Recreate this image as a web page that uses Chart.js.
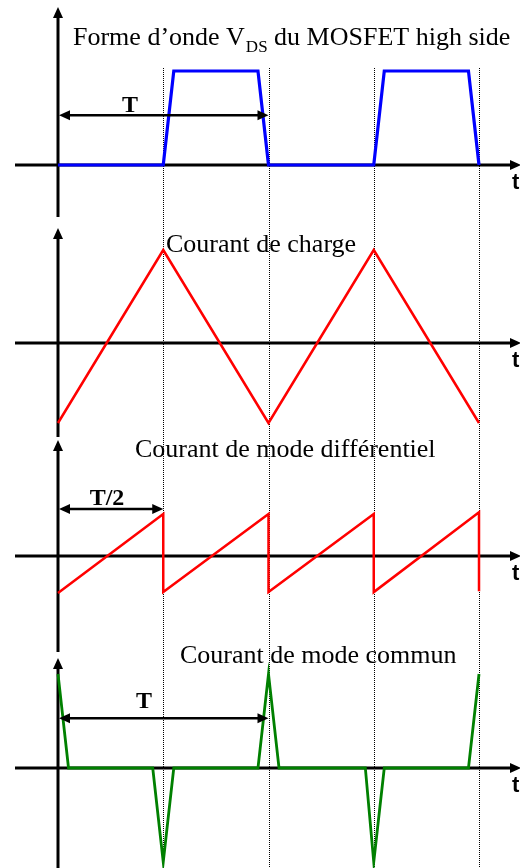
<!DOCTYPE html>
<html>
<head>
<meta charset="utf-8">
<script src="https://cdn.jsdelivr.net/npm/chart.js@4"></script>
<style>
  html, body { margin: 0; padding: 0; background: #fff; overflow: hidden; }
  canvas { display: block; }
</style>
</head>
<body>
<canvas id="wave" width="520" height="868"></canvas>
<script>
// Time is counted in half-periods (T/2); one full period T spans two units.
const vdsTime = [0, 1, 1.1, 1.9, 2, 3, 3.1, 3.9, 4];
const vdsLevel = [0, 0, 1, 1, 0, 0, 1, 1, 0];

const chargeTime = [0, 1, 2, 3, 4];
const chargeCurrent = [-0.86, 1, -0.86, 1, -0.86];

const diffTime = [0, 1, 1, 2, 2, 3, 3, 4, 4];
const diffCurrent = [-0.44, 0.5, -0.43, 0.5, -0.43, 0.5, -0.43, 0.52, -0.42];

const cmTime = [0, 0.1, 0.9, 1, 1.1, 1.9, 2, 2.1, 2.92, 3, 3.1, 3.9, 4];
const cmCurrent = [1, 0, 0, -1, 0, 0, 1, 0, 0, -1, 0, 0, 1];

const guideTimes = [1, 2, 3, 4];

const panelTitles = [
  'Forme d\u2019onde V',
  'Courant de charge',
  'Courant de mode diff\u00e9rentiel',
  'Courant de mode commun'
];

// Layout of the four stacked panels (canvas pixels).
const H = 868;
const panels = [
  { scale: 'y1', axisPx: 165, unitPx: 94, axisTop: 7,   axisBottom: 217, title: [73, 45]  },
  { scale: 'y2', axisPx: 343, unitPx: 93, axisTop: 228, axisBottom: 437, title: [166, 252] },
  { scale: 'y3', axisPx: 556, unitPx: 84, axisTop: 440, axisBottom: 652, title: [135, 457] },
  { scale: 'y4', axisPx: 768, unitPx: 94, axisTop: 658, axisBottom: 868, title: [180, 663] }
];

function yScaleFor(p) {
  return {
    type: 'linear', display: false,
    min: -(H - p.axisPx) / p.unitPx,
    max: p.axisPx / p.unitPx
  };
}

function pts(xs, ys) { return xs.map((x, i) => ({ x: x, y: ys[i] })); }

const SERIF = '"Liberation Serif", "Times New Roman", serif';
const SANS = '"Liberation Sans", Arial, sans-serif';

function arrowHead(ctx, tipX, tipY, dx, dy, len, half) {
  // dx,dy: unit direction the arrow points to
  const bx = tipX - dx * len, by = tipY - dy * len;
  ctx.beginPath();
  ctx.moveTo(tipX, tipY);
  ctx.lineTo(bx - dy * half, by + dx * half);
  ctx.lineTo(bx + dy * half, by - dx * half);
  ctx.closePath();
  ctx.fill();
}

function dimArrow(ctx, x1, x2, y) {
  ctx.lineWidth = 2.6;
  ctx.beginPath();
  ctx.moveTo(x1 + 8, y);
  ctx.lineTo(x2 - 8, y);
  ctx.stroke();
  arrowHead(ctx, x1 + 1, y, -1, 0, 11, 5);
  arrowHead(ctx, x2, y, 1, 0, 11, 5);
}

const diagramPlugin = {
  id: 'diagram',
  beforeDatasetsDraw(chart) {
    const ctx = chart.ctx;
    const xs = chart.scales.x;
    ctx.save();
    // dotted guides at each half-period
    ctx.strokeStyle = '#000';
    ctx.lineWidth = 1;
    ctx.setLineDash([1, 1]);
    guideTimes.forEach(t => {
      const px = Math.round(xs.getPixelForValue(t)) + 0.5;
      ctx.beginPath();
      ctx.moveTo(px, 68);
      ctx.lineTo(px, H);
      ctx.stroke();
    });
    ctx.setLineDash([]);
    // axes with arrowheads
    ctx.fillStyle = '#000';
    const x0 = xs.getPixelForValue(0);
    panels.forEach(p => {
      const y0 = chart.scales[p.scale].getPixelForValue(0);
      ctx.lineWidth = 3;
      ctx.beginPath();
      ctx.moveTo(15, y0);
      ctx.lineTo(511, y0);
      ctx.stroke();
      arrowHead(ctx, 521, y0, 1, 0, 11, 5);
      ctx.beginPath();
      ctx.moveTo(x0, p.axisTop + 9);
      ctx.lineTo(x0, p.axisBottom);
      ctx.stroke();
      arrowHead(ctx, x0, p.axisTop, 0, -1, 11, 5);
    });
    ctx.restore();
  },
  afterDatasetsDraw(chart) {
    const ctx = chart.ctx;
    const xs = chart.scales.x;
    ctx.save();
    ctx.fillStyle = '#000';
    ctx.strokeStyle = '#000';
    ctx.textBaseline = 'alphabetic';
    ctx.textAlign = 'left';

    // panel titles
    ctx.font = '26px ' + SERIF;
    let [tx, ty] = panels[0].title;
    ctx.fillText(panelTitles[0], tx, ty);
    tx += ctx.measureText(panelTitles[0]).width;
    ctx.font = '17px ' + SERIF;
    ctx.fillText('DS', tx + 1, ty + 7);
    tx += ctx.measureText('DS').width + 1;
    ctx.font = '26px ' + SERIF;
    ctx.fillText(' du MOSFET high side', tx, ty);
    for (let i = 1; i < panels.length; i++) {
      ctx.fillText(panelTitles[i], panels[i].title[0], panels[i].title[1]);
    }

    // time-axis labels
    ctx.font = 'bold 22px ' + SANS;
    panels.forEach(p => {
      const y0 = chart.scales[p.scale].getPixelForValue(0);
      ctx.fillText('t', 512, y0 + 24);
    });

    // period markers
    const x0 = xs.getPixelForValue(0);
    const yT1 = chart.scales.y1.getPixelForValue(0.53);
    dimArrow(ctx, x0, xs.getPixelForValue(2), yT1);
    const yT2 = chart.scales.y3.getPixelForValue(0.56);
    dimArrow(ctx, x0, xs.getPixelForValue(1), yT2);
    const yT3 = chart.scales.y4.getPixelForValue(0.53);
    dimArrow(ctx, x0, xs.getPixelForValue(2), yT3);

    ctx.font = 'bold 24px ' + SERIF;
    ctx.textAlign = 'center';
    ctx.fillText('T', 130, yT1 - 3);
    ctx.fillText('T/2', 107, yT2 - 4);
    ctx.fillText('T', 144, yT3 - 10);
    ctx.restore();
  }
};

const lineStyle = { fill: false, tension: 0, pointRadius: 0, borderJoinStyle: 'miter', clip: false };

new Chart(document.getElementById('wave'), {
  type: 'line',
  data: {
    datasets: [
      Object.assign({ label: 'VDS', data: pts(vdsTime, vdsLevel), borderColor: '#0000ff', borderWidth: 3.2, yAxisID: 'y1' }, lineStyle),
      Object.assign({ label: 'Courant de charge', data: pts(chargeTime, chargeCurrent), borderColor: '#ff0000', borderWidth: 2.5, yAxisID: 'y2' }, lineStyle),
      Object.assign({ label: 'Courant de mode diff\u00e9rentiel', data: pts(diffTime, diffCurrent), borderColor: '#ff0000', borderWidth: 2.5, yAxisID: 'y3' }, lineStyle),
      Object.assign({ label: 'Courant de mode commun', data: pts(cmTime, cmCurrent), borderColor: '#008000', borderWidth: 2.8, yAxisID: 'y4' }, lineStyle)
    ]
  },
  options: {
    responsive: false,
    animation: false,
    devicePixelRatio: 1,
    layout: { padding: { left: 58, right: 41, top: 0, bottom: 0 } },
    plugins: { legend: { display: false }, tooltip: { enabled: false }, title: { display: false } },
    scales: {
      x: { type: 'linear', display: false, min: 0, max: 4 },
      y1: yScaleFor(panels[0]),
      y2: yScaleFor(panels[1]),
      y3: yScaleFor(panels[2]),
      y4: yScaleFor(panels[3])
    }
  },
  plugins: [diagramPlugin]
});
</script>
</body>
</html>
